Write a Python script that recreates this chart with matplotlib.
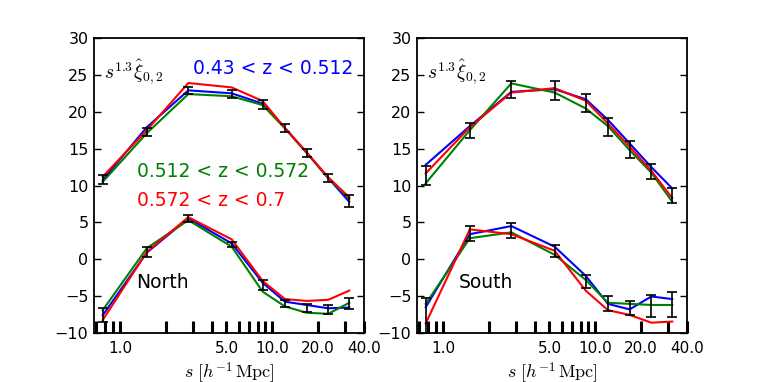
import matplotlib
matplotlib.use("Agg")
import matplotlib.pyplot as plt
from matplotlib.ticker import FixedLocator, FixedFormatter, NullFormatter

plt.rcParams['mathtext.fontset'] = 'cm'
plt.rcParams['font.family'] = ['DejaVu Sans']

s = [0.77, 1.50, 2.81, 5.41, 8.65, 12.1, 16.8, 23.3, 32.0]

# North, upper group
n_up_blue = [10.75, 17.9, 22.9, 22.5, 21.1, 17.8, 14.45, 11.0, 7.8]
n_up_green = [10.5, 17.1, 22.4, 22.1, 20.9, 17.75, 14.45, 11.0, 8.2]
n_up_red = [11.2, 17.5, 23.9, 23.3, 21.45, 17.8, 14.5, 11.1, 8.4]
n_up_errc = [10.8, 17.2, 22.9, 22.4, 21.0, 17.8, 14.4, 11.0, 7.9]
n_up_err = [0.6, 0.55, 0.45, 0.6, 0.65, 0.6, 0.6, 0.55, 0.8]

# North, lower group
n_lo_blue = [-7.6, 0.9, 5.55, 2.15, -3.2, -5.75, -6.2, -6.65, -6.55]
n_lo_green = [-6.9, 1.5, 5.3, 1.7, -4.4, -6.4, -7.25, -7.4, -5.9]
n_lo_red = [-8.25, 1.0, 5.7, 2.7, -2.95, -5.4, -5.65, -5.5, -4.25]
n_lo_errc = [-7.55, 1.0, 5.5, 2.0, -3.5, -6.0, -6.6, -6.8, -6.0]
n_lo_err = [0.9, 0.65, 0.5, 0.4, 0.7, 0.5, 0.5, 0.6, 0.8]

# South, upper group
s_up_blue = [12.8, 18.05, 22.7, 23.05, 21.7, 18.9, 15.7, 12.5, 9.6]
s_up_green = [10.3, 17.5, 23.85, 22.6, 20.45, 18.05, 14.8, 11.75, 7.8]
s_up_red = [11.65, 17.9, 22.6, 23.2, 21.5, 18.4, 15.25, 12.0, 8.3]
s_up_errc = [11.35, 17.5, 23.05, 22.9, 21.15, 17.9, 14.85, 11.9, 8.6]
s_up_err = [1.3, 1.0, 1.15, 1.25, 1.25, 1.2, 1.15, 1.0, 1.0]

# South, lower group
s_lo_blue = [-6.5, 3.4, 4.5, 1.7, -2.25, -6.05, -6.8, -5.05, -5.4]
s_lo_green = [-6.05, 2.85, 3.65, 0.6, -2.8, -5.9, -6.05, -6.2, -6.2]
s_lo_red = [-8.7, 4.05, 3.4, 1.15, -4.25, -6.9, -7.55, -8.6, -8.45]
s_lo_errc = [-7.7, 3.5, 3.85, 1.1, -3.0, -6.0, -6.6, -6.3, -6.15]
s_lo_err = [2.5, 1.0, 1.0, 0.85, 0.9, 0.95, 1.0, 1.5, 1.65]

major_ticks = [1.0, 5.0, 10.0, 20.0, 40.0]
major_labels = ["1.0", "5.0", "10.0", "20.0", "40.0"]
minor_ticks = [0.7, 0.8, 0.9, 2, 3, 4, 6, 7, 8, 9, 30]
y_ticks = [-10, -5, 0, 5, 10, 15, 20, 25, 30]

bin_labels = ["0.43 < z < 0.512", "0.512 < z < 0.572", "0.572 < z < 0.7"]
colors = ['#0000ff', '#008000', '#ff0000']

fig = plt.figure(figsize=(7.63, 3.82), dpi=100)
axL = fig.add_axes([94/763, 1-333/382, 270/763, 295/382])
axR = fig.add_axes([417/763, 1-333/382, 270/763, 295/382])

panels = [
    (axL, "North", [(n_up_blue, n_up_green, n_up_red, n_up_errc, n_up_err),
                    (n_lo_blue, n_lo_green, n_lo_red, n_lo_errc, n_lo_err)]),
    (axR, "South", [(s_up_blue, s_up_green, s_up_red, s_up_errc, s_up_err),
                    (s_lo_blue, s_lo_green, s_lo_red, s_lo_errc, s_lo_err)]),
]

for ax, name, groups in panels:
    for b, g, r, ec, ee in groups:
        for vals, c in zip((b, g, r), colors):
            ax.plot(s, vals, color=c, lw=1.5, zorder=2)
        ax.errorbar(s, ec, yerr=ee, fmt='none', ecolor='black', elinewidth=1.2,
                    capsize=3.5, capthick=1.2, zorder=3)
    ax.set_xscale('log')
    ax.set_xlim(0.675, 40)
    ax.set_ylim(-10, 30)
    ax.xaxis.set_major_locator(FixedLocator(major_ticks))
    ax.xaxis.set_major_formatter(FixedFormatter(major_labels))
    ax.xaxis.set_minor_locator(FixedLocator(minor_ticks))
    ax.xaxis.set_minor_formatter(NullFormatter())
    ax.set_yticks(y_ticks)
    ax.tick_params(axis='x', which='both', direction='in', length=8.5, width=2.2,
                   top=False, bottom=True, labelsize=11, pad=6)
    ax.tick_params(axis='y', which='both', direction='in', length=5, width=1,
                   left=True, right=True, labelsize=11.5, pad=4)
    for sp in ax.spines.values():
        sp.set_linewidth(1.3)
    ax.set_xlabel(r"$s\ [h^{-1}\,\mathrm{Mpc}]$", fontsize=13, labelpad=3)
    ax.text(0.037, 0.885, r"$s^{1.3}\hat{\xi}_{0,2}$", transform=ax.transAxes,
            fontsize=14, ha='left', va='center')
    ax.text(0.157 if name == "North" else 0.155, 0.172, name, transform=ax.transAxes,
            fontsize=13.5, ha='left', va='center')

axL.text((193-94)/270, 1 - (68-38)/295, bin_labels[0], transform=axL.transAxes,
         color=colors[0], fontsize=13.5, ha='left', va='center')
axL.text((137-94)/270, 1 - (172-38)/295, bin_labels[1], transform=axL.transAxes,
         color=colors[1], fontsize=13.5, ha='left', va='center')
axL.text((137-94)/270, 1 - (201-38)/295, bin_labels[2], transform=axL.transAxes,
         color=colors[2], fontsize=13.5, ha='left', va='center')

fig.savefig("out.png", dpi=100)
